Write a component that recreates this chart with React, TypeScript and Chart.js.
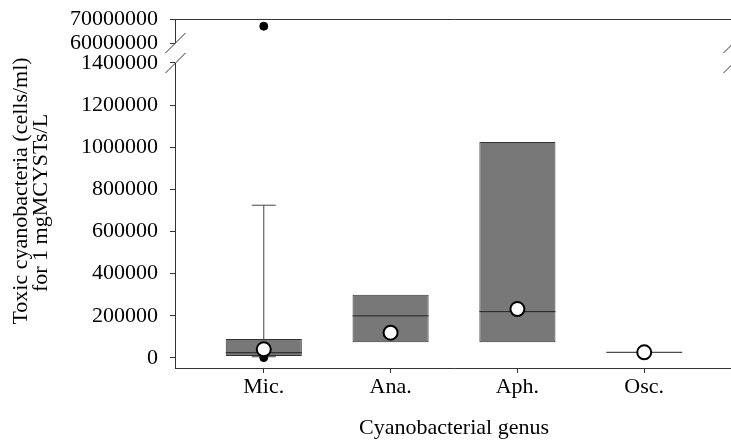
import React, { useEffect, useRef } from 'react';
import { Chart, registerables } from 'chart.js';

Chart.register(...registerables);

// ---- data ----
const categories = ['Mic.', 'Ana.', 'Aph.', 'Osc.'];
const categoryPositions = [1, 2, 3, 4];
const q1Values = [10000, 75000, 75000, 27000];
const medianValues = [25000, 200000, 220000, 27000];
const q3Values = [90000, 300000, 1025000, 27000];
const whiskerLowValues: (number | null)[] = [6000, null, null, null];
const whiskerHighValues: (number | null)[] = [725000, null, null, null];
const meanValues = [41000, 120000, 232000, 27000];
const outlierCategoryIndex = [0, 0];
const outlierValues = [67000000, 2000];
const lowerTicks = [0, 200000, 400000, 600000, 800000, 1000000, 1200000, 1400000];
const upperTicks = [60000000, 70000000];

const FONT = '"Liberation Serif", "Times New Roman", serif';
const yTitleLines = ['Toxic cyanobacteria (cells/ml)', 'for 1 mgMCYSTs/L'];
const xTitle = 'Cyanobacterial genus';

const upperMin = upperTicks[0];
const upperMax = upperTicks[upperTicks.length - 1];
const lowerTop = lowerTicks[lowerTicks.length - 1];

const brokenAxisPlugin = {
  id: 'brokenAxis',
  afterDraw(chart: any) {
    const ctx = chart.ctx as CanvasRenderingContext2D;
    const { left, right, top, bottom } = chart.chartArea;
    const yLow = chart.scales.y;
    const yUp = chart.scales.yTop;
    const breakUpper = yUp.getPixelForValue(upperMin);
    const breakLower = yLow.getPixelForValue(lowerTop);
    ctx.save();
    ctx.strokeStyle = '#333';
    ctx.lineWidth = 1;
    const seg = (x1: number, y1: number, x2: number, y2: number) => {
      ctx.beginPath();
      ctx.moveTo(x1, y1);
      ctx.lineTo(x2, y2);
      ctx.stroke();
    };
    const L = Math.round(left) + 0.5;
    const R = Math.round(right) + 0.5;
    const T = Math.round(top) + 0.5;
    seg(left, T, right + 1, T);
    for (const x of [L, R]) {
      seg(x, top, x, breakUpper);
      seg(x, breakLower, x, bottom);
      for (const yb of [breakUpper, breakLower]) {
        seg(x - 10, yb + 10, x + 10, yb - 10);
      }
    }
    // y title
    ctx.fillStyle = '#000';
    ctx.font = `22px ${FONT}`;
    ctx.textAlign = 'center';
    ctx.textBaseline = 'middle';
    const cx = [21, 41];
    const cy = [191, 203];
    yTitleLines.forEach((t, i) => {
      ctx.save();
      ctx.translate(cx[i], cy[i]);
      ctx.rotate(-Math.PI / 2);
      ctx.fillText(t, 0, 0);
      ctx.restore();
    });
    ctx.restore();
  },
};

const zeroPad = (s: any) => {
  s.paddingTop = 0;
  s.paddingBottom = 0;
  s.paddingLeft = 0;
  s.paddingRight = 0;
};

export default function App() {
  const ref = useRef<HTMLCanvasElement>(null);

  useEffect(() => {
    if (!ref.current) return;
    Chart.defaults.font.family = FONT;
    Chart.defaults.color = '#000';

    const boxData = categoryPositions.map((x, i) => ({ x, y: [q1Values[i], q3Values[i]] }));
    const whiskerData: any[] = [];
    const capData: any[] = [];
    categoryPositions.forEach((x, i) => {
      const lo = whiskerLowValues[i];
      const hi = whiskerHighValues[i];
      if (lo != null && hi != null) {
        whiskerData.push({ x, y: lo }, { x, y: hi }, { x, y: NaN });
        capData.push({ x, y: lo }, { x, y: hi });
      }
    });
    const medianData = categoryPositions.map((x, i) => ({ x, y: medianValues[i] }));
    const meanData = categoryPositions.map((x, i) => ({ x, y: meanValues[i] }));
    const outLow: any[] = [];
    const outHigh: any[] = [];
    outlierValues.forEach((v, i) => {
      const p = { x: categoryPositions[outlierCategoryIndex[i]], y: v };
      if (v >= upperMin) outHigh.push(p);
      else outLow.push(p);
    });

    const tickFont = { size: 22, family: FONT };

    const chart = new Chart(ref.current, {
      type: 'bar',
      data: {
        datasets: [
          {
            type: 'scatter',
            data: whiskerData,
            showLine: true,
            spanGaps: false,
            borderColor: '#444',
            borderWidth: 1,
            pointRadius: 0,
            order: 10,
          } as any,
          {
            type: 'bar',
            data: boxData,
            backgroundColor: '#787878',
            borderColor: '#333',
            borderWidth: 1,
            borderSkipped: false,
            barPercentage: 0.6,
            categoryPercentage: 1,
            grouped: false,
            order: 5,
          } as any,
          {
            type: 'scatter',
            data: capData,
            pointStyle: 'line',
            pointRadius: 12,
            borderColor: '#444',
            borderWidth: 1,
            order: 6,
          } as any,
          {
            type: 'scatter',
            data: medianData,
            pointStyle: 'line',
            pointRadius: 38,
            borderColor: '#222',
            borderWidth: 1,
            order: 4,
          } as any,
          {
            type: 'scatter',
            data: outLow,
            pointStyle: 'circle',
            pointRadius: 4,
            backgroundColor: '#000',
            borderColor: '#000',
            borderWidth: 1,
            order: 3,
          } as any,
          {
            type: 'scatter',
            data: outHigh,
            yAxisID: 'yTop',
            pointStyle: 'circle',
            pointRadius: 4,
            backgroundColor: '#000',
            borderColor: '#000',
            borderWidth: 1,
            order: 3,
          } as any,
          {
            type: 'scatter',
            data: meanData,
            pointStyle: 'circle',
            pointRadius: 7,
            backgroundColor: '#fff',
            borderColor: '#000',
            borderWidth: 2,
            order: 1,
          } as any,
        ],
      },
      options: {
        animation: false,
        responsive: false,
        layout: { autoPadding: false, padding: { top: 19, right: 12, left: 0, bottom: 0 } },
        plugins: {
          legend: { display: false },
          tooltip: { enabled: false },
        },
        scales: {
          x: {
            type: 'linear',
            position: 'bottom',
            offset: false,
            min: 0.3,
            max: 4.7,
            afterBuildTicks: (s: any) => {
              s.ticks = categoryPositions.map((v) => ({ value: v }));
            },
            afterFit: (s: any) => {
              s.height = 77;
              zeroPad(s);
            },
            ticks: {
              autoSkip: false,
              maxRotation: 0,
              padding: 1,
              font: tickFont,
              color: '#000',
              callback: (v: any) => {
                const i = categoryPositions.indexOf(Number(v));
                return i >= 0 ? categories[i] : '';
              },
            },
            grid: { offset: false, drawOnChartArea: false, drawTicks: true, tickLength: 5, color: '#333' },
            border: { display: true, color: '#333' },
            title: {
              display: true,
              text: xTitle,
              font: tickFont,
              color: '#000',
              padding: { top: 0, bottom: 4 },
            },
          },
          y: {
            type: 'linear',
            position: 'left',
            stack: 'v',
            stackWeight: 325,
            min: -47458,
            max: 1494915,
            afterBuildTicks: (s: any) => {
              s.ticks = lowerTicks.map((v) => ({ value: v }));
            },
            afterFit: (s: any) => {
              s.width = 175;
              zeroPad(s);
            },
            ticks: {
              autoSkip: false,
              padding: 12,
              font: tickFont,
              color: '#000',
              callback: (v: any) => String(v),
            },
            grid: { drawOnChartArea: false, drawTicks: true, tickLength: 5, color: '#333' },
            border: { display: false },
          },
          yTop: {
            type: 'linear',
            position: 'left',
            stack: 'v',
            stackWeight: 24,
            min: upperMin,
            max: upperMax,
            afterBuildTicks: (s: any) => {
              s.ticks = upperTicks.map((v) => ({ value: v }));
            },
            afterFit: (s: any) => {
              s.width = 175;
              zeroPad(s);
            },
            ticks: {
              autoSkip: false,
              padding: 12,
              font: tickFont,
              color: '#000',
              callback: (v: any) => String(v),
            },
            grid: { drawOnChartArea: false, drawTicks: true, tickLength: 5, color: '#333' },
            border: { display: false },
          },
        } as any,
      },
      plugins: [brokenAxisPlugin],
    });
    return () => chart.destroy();
  }, []);

  return (
    <div
      style={{
        position: 'fixed',
        left: 0,
        top: 0,
        width: 731,
        height: 445,
        overflow: 'hidden',
        background: '#fff',
      }}
    >
      <canvas ref={ref} width={745} height={445} style={{ display: 'block' }} />
    </div>
  );
}
